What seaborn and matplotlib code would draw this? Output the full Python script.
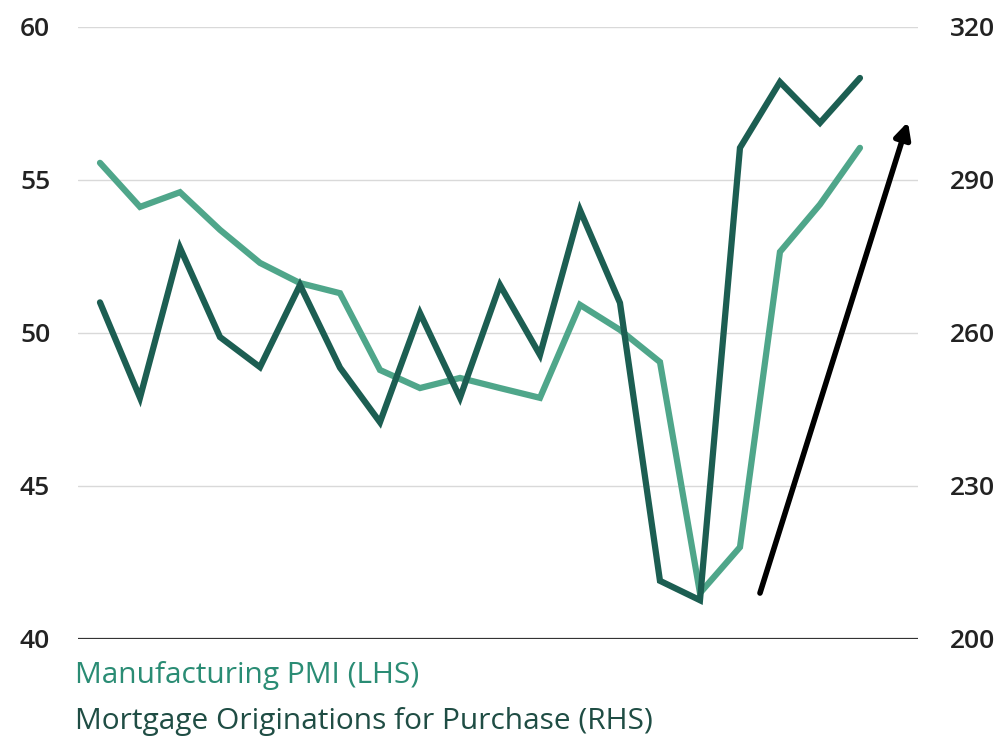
import matplotlib
matplotlib.use("Agg")
import matplotlib.pyplot as plt
import seaborn as sns
import pandas as pd

# ---- data ----
periods = list(range(20))
pmi = [55.56, 54.12, 54.6, 53.37, 52.29, 51.63, 51.3, 48.79, 48.2, 48.53,
       48.2, 47.88, 50.92, 50.1, 49.05, 41.5, 43.0, 52.65, 54.2, 56.05]
mortgage = [266.0, 247.3, 276.7, 259.2, 253.3, 269.4, 253.2, 242.5, 263.9, 247.3,
            269.4, 255.7, 284.1, 265.9, 211.4, 207.6, 296.3, 309.2, 301.2, 310.0]
left_ticks = [40, 45, 50, 55, 60]
right_ticks = [200, 230, 260, 290, 320]
label_pmi = "Manufacturing PMI (LHS)"
label_mort = "Mortgage Originations for Purchase (RHS)"
arrow_start = (16.5, 41.5)
arrow_end = (20.2, 56.9)

LIGHT = "#4fa68a"
DARK = "#1c5e52"
LIGHT_TXT = "#2a8c74"
DARK_TXT = "#1f4d44"

sns.set_theme(style="white")
plt.rcParams["font.family"] = ["Open Sans", "DejaVu Sans"]

df = pd.DataFrame({"period": periods, "pmi": pmi, "mortgage": mortgage})

fig = plt.figure(figsize=(10.05, 7.41), dpi=100)
ax = fig.add_axes([0.0776, 0.1377, 0.8358, 0.8259])
ax2 = ax.twinx()

ax.set_xlim(-0.55, 20.45)
ax.set_ylim(40, 60)
ax2.set_ylim(200, 320)

for y in left_ticks[1:]:
    ax.axhline(y, color="#d9d9d9", lw=1.0, zorder=0)
ax.axhline(40, color="#333333", lw=1.6, zorder=1)

sns.lineplot(data=df, x="period", y="pmi", ax=ax, color=LIGHT, lw=4.5,
             solid_joinstyle="miter", zorder=3)
sns.lineplot(data=df, x="period", y="mortgage", ax=ax2, color=DARK, lw=4.5,
             solid_joinstyle="miter", zorder=4)

ax.annotate("", xy=arrow_end, xytext=arrow_start,
            arrowprops=dict(arrowstyle="-|>,head_length=0.8,head_width=0.4",
                            color="black", lw=4, shrinkA=0, shrinkB=0),
            zorder=5)

for a in (ax, ax2):
    for s in a.spines.values():
        s.set_visible(False)
    a.set_xlabel("")
    a.set_ylabel("")
    a.set_xticks([])
    a.grid(False)

ax.set_yticks(left_ticks)
ax.set_yticklabels([str(t) for t in left_ticks], fontweight="semibold")
ax2.set_yticks(right_ticks)
ax2.set_yticklabels([str(t) for t in right_ticks], fontweight="semibold")
ax.tick_params(axis="y", length=0, pad=20, labelsize=19, labelcolor="#222222")
ax2.tick_params(axis="y", length=0, pad=23, labelsize=19, labelcolor="#222222")
ax2.set_zorder(ax.get_zorder() + 1)
ax2.patch.set_visible(False)

fig.text(75 / 1005, 1 - 675 / 741, label_pmi, color=LIGHT_TXT, fontsize=21.5,
         va="center", ha="left")
fig.text(75 / 1005, 1 - 721 / 741, label_mort, color=DARK_TXT, fontsize=21.5,
         va="center", ha="left")

fig.savefig("out.png", dpi=100, facecolor="white")
